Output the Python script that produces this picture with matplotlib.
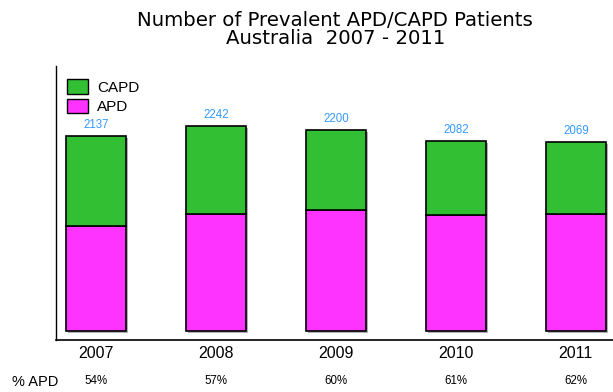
import numpy as np
import matplotlib.pyplot as plt
from matplotlib.patches import Patch

plt.rcParams['font.family'] = ['Liberation Sans', 'DejaVu Sans']

years = ['2007', '2008', '2009', '2010', '2011']
totals = [2137, 2242, 2200, 2082, 2069]
pct_apd = [54, 57, 60, 61, 62]

apd = [t * p / 100 for t, p in zip(totals, pct_apd)]
capd = [t - a for t, a in zip(totals, apd)]

green = '#33bf33'
magenta = '#ff33ff'
blue = '#3399ff'

fig = plt.figure(figsize=(6.13, 3.92), dpi=100)
ax = fig.add_axes([0.0914, 0.1327, 0.9086, 0.6989])

x = np.arange(len(years))
w = 0.5

# soft drop shadow behind each bar
ax.bar(x + 0.017, totals, w, bottom=-22, color='#b0b0b0', linewidth=0, zorder=1)
ax.bar(x, apd, w, color=magenta, edgecolor='black', linewidth=1.2, zorder=2)
ax.bar(x, capd, w, bottom=apd, color=green, edgecolor='black', linewidth=1.2, zorder=2)

for xi, t in zip(x, totals):
    ax.text(xi, t + 55, str(t), ha='center', va='bottom', fontsize=8.3, color=blue)

ax.set_xlim(-0.333, 4.31)
ax.set_ylim(-99, 2900)
ax.set_xticks(x)
ax.set_xticklabels(years, fontsize=11.5)
ax.tick_params(axis='x', length=0, pad=4)
ax.set_yticks([])
for s in ['top', 'right']:
    ax.spines[s].set_visible(False)
ax.spines['left'].set_linewidth(1.0)
ax.spines['bottom'].set_linewidth(1.2)

# % APD row under the year labels
for xi, p in zip(x, pct_apd):
    ax.text(xi, -0.148, f'{p}%', transform=ax.get_xaxis_transform(),
            ha='center', va='center', fontsize=8.3)
fig.text(12 / 613, 1 - 382 / 392, '% APD', ha='left', va='center', fontsize=10.5)

# two-line title, lines set tight together
title_kw = dict(ha='center', va='baseline', fontsize=14.2, family='DejaVu Sans')
fig.text(335 / 613, 1 - 25.5 / 392, 'Number of Prevalent APD/CAPD Patients', **title_kw)
fig.text(336 / 613, 1 - 44.5 / 392, 'Australia  2007 - 2011', **title_kw)

handles = [Patch(facecolor=green, edgecolor='black', label='CAPD'),
           Patch(facecolor=magenta, edgecolor='black', label='APD')]
ax.legend(handles=handles, loc='upper left', bbox_to_anchor=(0.0, 0.99), frameon=False,
          fontsize=11, handlelength=1.4, handleheight=1.1, handletextpad=0.6,
          labelspacing=0.25, borderaxespad=0.3)

fig.savefig('out.png', dpi=100)
